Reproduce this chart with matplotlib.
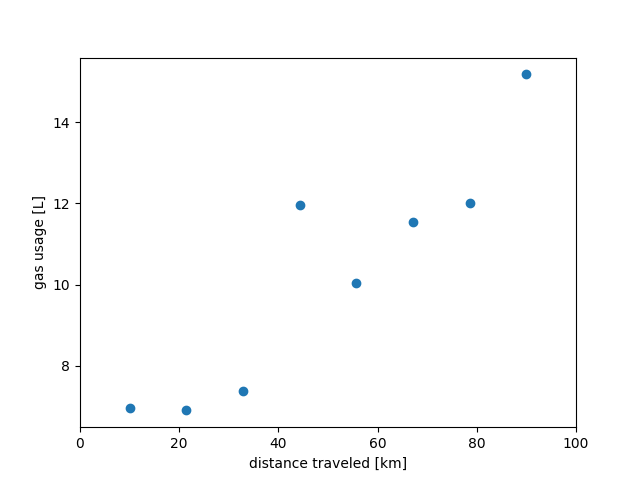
import matplotlib
matplotlib.use("Agg")
import matplotlib.pyplot as plt

distancia = [10.0, 21.4, 32.9, 44.3, 55.7, 67.1, 78.6, 90.0]
gasolina = [6.95, 6.90, 7.38, 11.97, 10.05, 11.55, 12.00, 15.18]

fig, ax = plt.subplots(figsize=(6.4, 4.8), dpi=100)
ax.scatter(distancia, gasolina)
ax.set_xlim(0, 100)
ax.set_xlabel("distance traveled [km]")
ax.set_ylabel("gas usage [L]")
fig.savefig("out.png")
